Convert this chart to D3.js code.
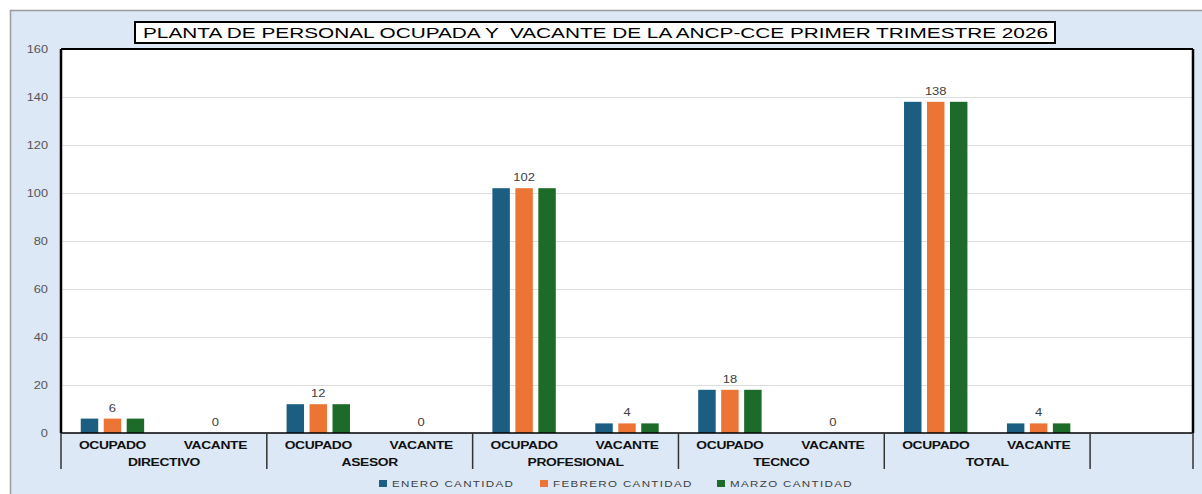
<!DOCTYPE html>
<html>
<head>
<meta charset="utf-8">
<script src="https://cdn.jsdelivr.net/npm/d3@7"></script>
<style>
  body { margin: 0; background: #fff; }
  svg { display: block; }
</style>
</head>
<body>
<svg id="chart"></svg>
<script>
// data
const grupos = ["DIRECTIVO", "ASESOR", "PROFESIONAL", "TECNCO", "TOTAL"];
const subcategorias = ["OCUPADO", "VACANTE"];
const series = ["ENERO CANTIDAD", "FEBRERO CANTIDAD", "MARZO CANTIDAD"];
const enero   = [6, 0, 12, 0, 102, 4, 18, 0, 138, 4];
const febrero = [6, 0, 12, 0, 102, 4, 18, 0, 138, 4];
const marzo   = [6, 0, 12, 0, 102, 4, 18, 0, 138, 4];
const yTicks = [0, 20, 40, 60, 80, 100, 120, 140, 160];
const titulo = "PLANTA DE PERSONAL OCUPADA Y  VACANTE DE LA ANCP-CCE PRIMER TRIMESTRE 2026";

const colors = ["#1b5e82", "#ec7434", "#1d6b29"];
const W = 1202, H = 494;
const margin = { top: 49, right: 9, bottom: 61, left: 61 };
const stretch = 1.22;
const font = "'Liberation Sans', Arial, sans-serif";

// slot keys: 10 real categories + one empty slot at the end
const keys = [];
grupos.forEach(g => subcategorias.forEach(s => keys.push(g + "|" + s)));
keys.push("blank");

const rows = keys.slice(0, 10).map((k, i) => ({ key: k, values: [enero[i], febrero[i], marzo[i]] }));

const svg = d3.select("#chart").attr("width", W).attr("height", H);

// light blue chart area
svg.append("rect").attr("x", 10).attr("y", 10).attr("width", W - 10).attr("height", H - 10)
  .attr("fill", "#dce8f5");
svg.append("line").attr("x1", 10).attr("x2", W).attr("y1", 10.5).attr("y2", 10.5)
  .attr("stroke", "#9a9a9a").attr("stroke-width", 1.5);
svg.append("line").attr("x1", 10.5).attr("x2", 10.5).attr("y1", 10).attr("y2", H)
  .attr("stroke", "#9a9a9a").attr("stroke-width", 1.5);

const innerW = W - margin.left - margin.right;
const innerH = H - margin.top - margin.bottom;

const x = d3.scaleBand().domain(keys).range([0, innerW]).padding(0);
const xs = d3.scaleBand().domain(series).range([0, x.bandwidth()]).paddingInner(0.24).paddingOuter(0.86);
const y = d3.scaleLinear().domain([0, 160]).range([innerH, 0]);

const chart = svg.append("g").attr("transform", `translate(${margin.left},${margin.top})`);

chart.append("rect").attr("width", innerW).attr("height", innerH).attr("fill", "#fff");

// gridlines
chart.append("g").selectAll("line").data(yTicks.filter(d => d > 0)).join("line")
  .attr("x1", 0).attr("x2", innerW)
  .attr("y1", d => y(d) + 0.5).attr("y2", d => y(d) + 0.5)
  .attr("stroke", "#dcdcdc").attr("stroke-width", 1);

// y axis labels
const yAxis = chart.append("g").call(d3.axisLeft(y).tickValues(yTicks).tickSize(0).tickPadding(0));
yAxis.select(".domain").remove();
yAxis.selectAll("text")
  .attr("x", 0).attr("dy", "0.35em")
  .attr("transform", `translate(-13,0) scale(${stretch},1)`)
  .attr("font-family", font).attr("font-size", 10.5).attr("fill", "#555");

// bars
const slot = chart.append("g").selectAll("g").data(rows).join("g")
  .attr("transform", d => `translate(${x(d.key)},0)`);

slot.selectAll("rect").data(d => d.values.map((v, i) => ({ s: series[i], v: v, i: i }))).join("rect")
  .attr("x", d => xs(d.s))
  .attr("y", d => y(d.v))
  .attr("width", xs.bandwidth())
  .attr("height", d => innerH - y(d.v))
  .attr("fill", d => colors[d.i]);

// value labels on the middle series
slot.append("text")
  .attr("transform", d => `translate(${xs(series[1]) + xs.bandwidth() / 2},${y(d.values[1]) - 7}) scale(1.3,1)`)
  .attr("text-anchor", "middle")
  .attr("font-family", font).attr("font-size", 10).attr("fill", "#404040")
  .text(d => d.values[1]);

// plot frame: top, left, right black, baseline
chart.append("line").attr("x1", 0).attr("x2", innerW).attr("y1", 0).attr("y2", 0)
  .attr("stroke", "#000").attr("stroke-width", 2);
chart.append("line").attr("x1", 0).attr("x2", 0).attr("y1", 0).attr("y2", innerH)
  .attr("stroke", "#000").attr("stroke-width", 2.5);
chart.append("line").attr("x1", innerW).attr("x2", innerW).attr("y1", 0).attr("y2", innerH)
  .attr("stroke", "#000").attr("stroke-width", 2.5);
chart.append("line").attr("x1", 0).attr("x2", innerW).attr("y1", innerH).attr("y2", innerH)
  .attr("stroke", "#000").attr("stroke-width", 1.5);

// x axis: sub-category labels
const xAxis = chart.append("g").attr("transform", `translate(0,${innerH})`);
xAxis.selectAll("text.sub").data(keys.slice(0, 10)).join("text")
  .attr("class", "sub")
  .attr("transform", d => `translate(${x(d) + x.bandwidth() / 2},16) scale(1.26,1)`)
  .attr("text-anchor", "middle")
  .attr("font-family", font).attr("font-size", 11).attr("font-weight", "bold").attr("fill", "#111")
  .attr("letter-spacing", -0.3)
  .text(d => d.split("|")[1]);

// group labels
xAxis.selectAll("text.grp").data(grupos).join("text")
  .attr("class", "grp")
  .attr("transform", d => `translate(${x(d + "|" + subcategorias[0]) + x.bandwidth()},33) scale(1.26,1)`)
  .attr("text-anchor", "middle")
  .attr("font-family", font).attr("font-size", 11).attr("font-weight", "bold").attr("fill", "#111")
  .attr("letter-spacing", -0.3)
  .text(d => d);

// group separators
const seps = grupos.map(g => x(g + "|" + subcategorias[0])).concat([x("blank"), innerW]);
xAxis.selectAll("line.sep").data(seps).join("line")
  .attr("class", "sep")
  .attr("x1", d => d).attr("x2", d => d)
  .attr("y1", 0).attr("y2", 36)
  .attr("stroke", "#333").attr("stroke-width", 1.5);

// title
svg.append("rect").attr("x", 135).attr("y", 22).attr("width", 920).attr("height", 21)
  .attr("fill", "#fff").attr("stroke", "#000").attr("stroke-width", 2);
svg.append("text")
  .attr("x", 143).attr("y", 38)
  .attr("textLength", 905).attr("lengthAdjust", "spacingAndGlyphs")
  .style("white-space", "pre")
  .attr("font-family", font).attr("font-size", 14.5).attr("fill", "#000")
  .text(titulo);

// legend
const legendX = [379, 540, 717];
const legend = svg.append("g").selectAll("g").data(series).join("g")
  .attr("transform", (d, i) => `translate(${legendX[i]},480)`);
legend.append("rect").attr("width", 8).attr("height", 7).attr("fill", (d, i) => colors[i]);
legend.append("text")
  .attr("transform", `translate(13,6.5) scale(${stretch},1)`)
  .attr("font-family", font).attr("font-size", 9.5).attr("fill", "#404040")
  .attr("letter-spacing", 1.1)
  .text(d => d);
</script>
</body>
</html>
